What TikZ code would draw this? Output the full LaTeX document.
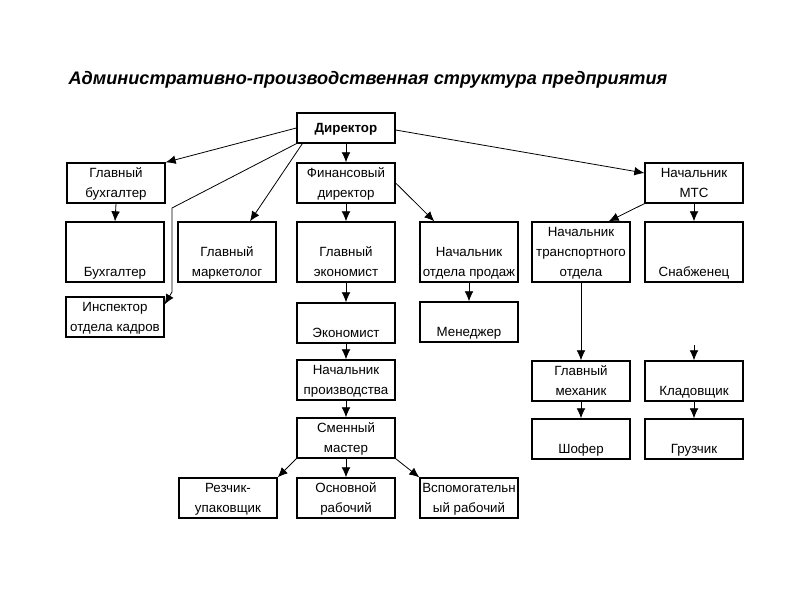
\documentclass[tikz,border=0pt]{standalone}
\usepackage{fontspec}
\setmainfont{Liberation Sans}
\usetikzlibrary{arrows.meta, calc}

\begin{document}
\begin{tikzpicture}[x=0.75pt, y=-0.75pt,
    box/.style={draw, line width=1pt, minimum width=73.5pt, inner sep=0pt, align=center, font=\fontsize{10}{15}\selectfont},
    tall/.style={box, minimum height=45pt},
    mid/.style={box, minimum height=30pt},
    arr/.style={-{Latex[length=7.5pt,width=6.5pt]}, line width=0.6pt}]

\useasboundingbox (0,0) rectangle (800,600);

\node[font=\fontsize{13.6}{16}\selectfont\bfseries\itshape] (title) at (368,80) {Административно-производственная структура предприятия};

% top
\node[box, minimum height=22.5pt, font=\fontsize{10}{15}\selectfont\bfseries] (dir) at (346,128) {\strut Директор};
\node[mid] (glbuh) at (116,183) {\strut Главный\\\strut бухгалтер};
\node[mid] (fin) at (346,183) {\strut Финансовый\\\strut директор};
\node[mid] (mts) at (694,183) {\strut Начальник\\\strut МТС};

% second row
\node[tall] (buh) at (115,252) {\strut\\\strut\\\strut Бухгалтер};
\node[tall] (mark) at (227,252) {\strut\\\strut Главный\\\strut маркетолог};
\node[tall] (econ) at (346,252) {\strut\\\strut Главный\\\strut экономист};
\node[tall] (sales) at (469,252) {\strut\\\strut Начальник\\\strut отдела продаж};
\node[tall] (trans) at (581,252) {\strut Начальник\\\strut транспортного\\\strut отдела};
\node[tall] (snab) at (694,252) {\strut\\\strut\\\strut Снабженец};

\node[mid] (insp) at (115,317) {\strut Инспектор\\\strut отдела кадров};
\node[mid] (ecs) at (346,323) {\strut\\\strut Экономист};
\node[mid] (mgr) at (469,322) {\strut\\\strut Менеджер};

\node[mid] (nprod) at (346,380) {\strut Начальник\\\strut производства};
\node[mid] (mech) at (581,381) {\strut Главный\\\strut механик};
\node[mid] (klad) at (694,381) {\strut\\\strut Кладовщик};

\node[mid] (smen) at (346,438) {\strut Сменный\\\strut мастер};
\node[mid] (shof) at (581,439) {\strut\\\strut Шофер};
\node[mid] (gruz) at (694,439) {\strut\\\strut Грузчик};

\node[mid] (rez) at (228,498) {\strut Резчик-\\\strut упаковщик};
\node[mid] (osn) at (346,498) {\strut Основной\\\strut рабочий};
\node[mid] (vsp) at (469,498) {\strut Вспомогательн\\\strut ый рабочий};

\coordinate (k1) at (172,208);
\coordinate (k2) at (172,292);
\coordinate (kl) at (694,345);

% arrows
\draw[arr] (dir.south) -- (fin.north);
\draw[arr] (dir.west) -- (glbuh.north east);
\draw[arr] ($(dir.south west)+(6,0)$) -- ($(mark.north)+(23,0)$);
\draw[arr] (dir.south west) -- (k1) -- (k2) -- ($(insp.north east)+(0,8)$);
\draw[arr] ($(dir.east)+(0,2)$) -- ($(mts.west)+(0,-10)$);

\draw[arr] (glbuh.south) -- (buh.north);
\draw[arr] (fin.south) -- (econ.north);
\draw[arr] (fin.east) -- ($(sales.north west)+(15,0)$);
\draw[arr] (econ.south) -- (ecs.north);
\draw[arr] (ecs.south) -- (nprod.north);
\draw[arr] (nprod.south) -- (smen.north);
\draw[arr] (smen.south west) -- (rez.north east);
\draw[arr] (smen.south) -- (osn.north);
\draw[arr] (smen.south east) -- (vsp.north west);
\draw[arr] (sales.south) -- (mgr.north);

\draw[arr] (mts.south west) -- ($(trans.north east)+(-22,0)$);
\draw[arr] (mts.south) -- (snab.north);
\draw[arr] (trans.south) -- (mech.north);
\draw[arr] (mech.south) -- (shof.north);
\draw[arr] (kl) -- (klad.north);
\draw[arr] (klad.south) -- (gruz.north);

\end{tikzpicture}
\end{document}
